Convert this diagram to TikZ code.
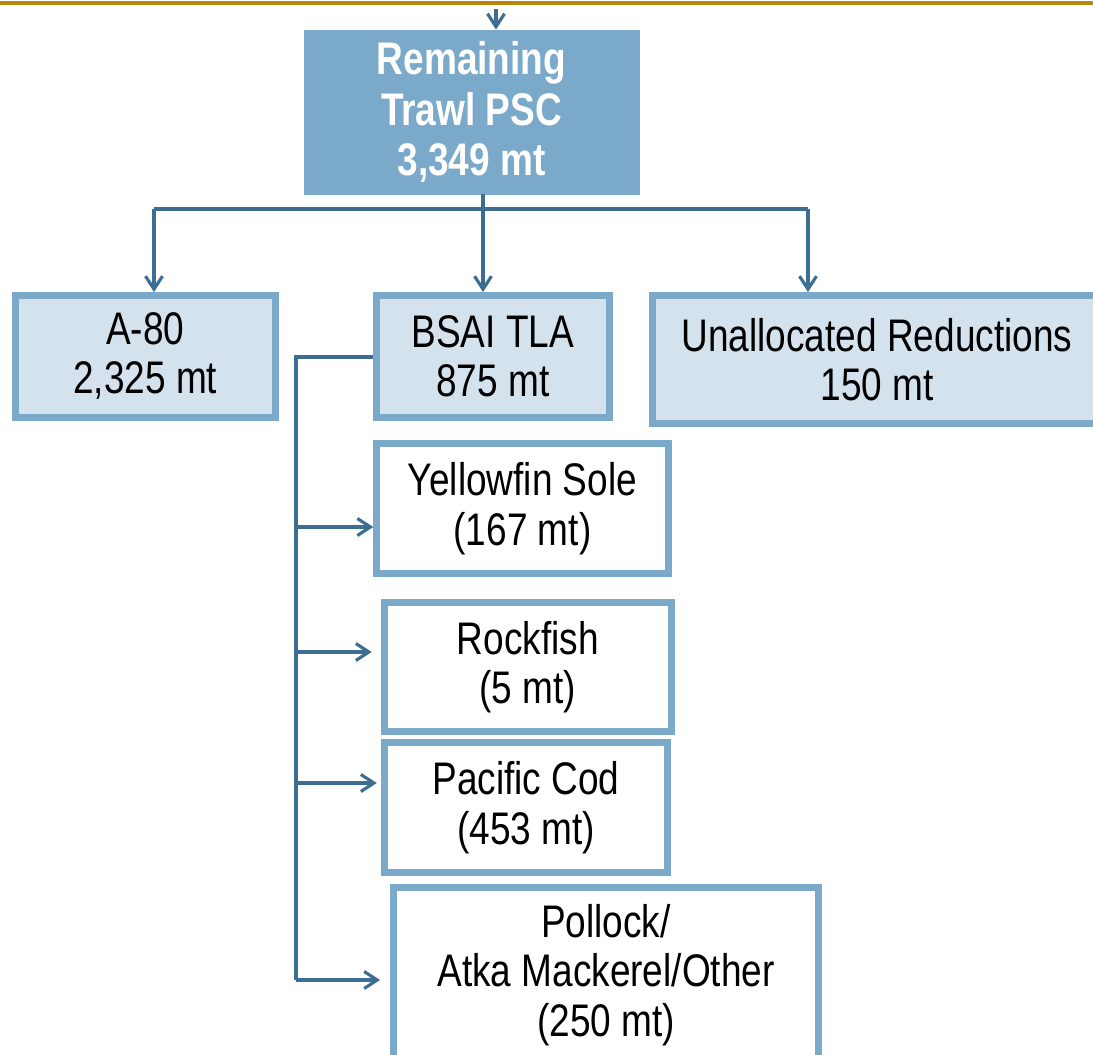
\documentclass[tikz,border=0pt]{standalone}
\usepackage{fontspec}
\setmainfont{Liberation Sans}[FakeStretch=0.81]
\usetikzlibrary{arrows.meta}
\definecolor{boxblue}{HTML}{7BA9C9}
\definecolor{paleblue}{HTML}{D3E2ED}
\definecolor{linkblue}{HTML}{3D6E92}
\definecolor{rulegold}{HTML}{B8860B}

\begin{document}
\begin{tikzpicture}[x=0.02cm, y=-0.02cm,
    txt/.style={font=\fontsize{26}{28}\selectfont, align=center, inner sep=0pt},
    topbox/.style={txt, fill=boxblue, draw=boxblue, line width=0.5pt, text=white,
        font=\fontsize{26}{29}\selectfont\bfseries},
    sumbox/.style={txt, fill=paleblue, draw=boxblue, line width=0.14cm},
    subbox/.style={txt, fill=white, draw=boxblue, line width=0.14cm},
    line/.style={draw=linkblue, line width=1.8pt},
    link/.style={line, -{Straight Barb[length=0.26cm, width=0.34cm]}}]
        \useasboundingbox (0,0) rectangle (1093,1055);
        \clip (0,0) rectangle (1093,1055);
        \draw[rulegold, line width=2.2pt] (0,3) -- (1093,3);

        \node[topbox, minimum width=6.7cm, minimum height=3.28cm] (psc) at (471.5,112) {Remaining\\Trawl PSC\\3,349 mt};
        \node[sumbox, minimum width=5.19cm, minimum height=2.43cm] (a80) at (145.3,356.3) {A-80\\2,325 mt};
        \node[sumbox, minimum width=4.67cm, minimum height=2.43cm] (tla) at (492.8,356.3) {BSAI TLA\\875 mt};
        \node[sumbox, minimum width=9cm, minimum height=2.55cm] (unal) at (877,359.3) {Unallocated Reductions\\150 mt};
        \node[subbox, minimum width=5.83cm, minimum height=2.61cm] (yfs) at (522.5,508.7) {Yellowfin Sole\\(167 mt)};
        \node[subbox, minimum width=5.74cm, minimum height=2.59cm] (rf) at (527.7,667) {Rockfish\\(5 mt)};
        \node[subbox, minimum width=5.67cm, minimum height=2.59cm] (pc) at (526,807.7) {Pacific Cod\\(453 mt)};
        \node[subbox, minimum width=8.5cm, minimum height=3.5cm] (pol) at (606,975) {Pollock/\\Atka Mackerel/Other\\(250 mt)};

        % feed from above
        \coordinate (feed) at (496,9);
        \draw[link] (feed) -- (feed |- psc.north);

        % split of the remaining PSC
        \coordinate (split) at (483,209);
        \coordinate (ja) at (154,209);
        \coordinate (ju) at (808,209);
        \draw[line] (psc.south -| split) -- (split);
        \draw[line] (ja) -- (ju);
        \draw[link] (ja) -- (ja |- a80.north);
        \draw[link] (split) -- (split |- tla.north);
        \draw[link] (ju) -- (ju |- unal.north);

        % TLA trunk
        \coordinate (trunk) at (296,357);
        \coordinate (t1) at (296,527);
        \coordinate (t2) at (296,652);
        \coordinate (t3) at (296,783);
        \coordinate (t4) at (296,980);
        \draw[line] (tla.west |- trunk) -- (trunk) -- (t4);
        \draw[link] (t1) -- (t1 -| yfs.west);
        \draw[link, shorten >=0.18cm] (t2) -- (t2 -| rf.west);
        \draw[link, shorten >=0.08cm] (t3) -- (t3 -| pc.west);
        \draw[link, shorten >=0.2cm] (t4) -- (t4 -| pol.west);
    \end{tikzpicture}
\end{document}
